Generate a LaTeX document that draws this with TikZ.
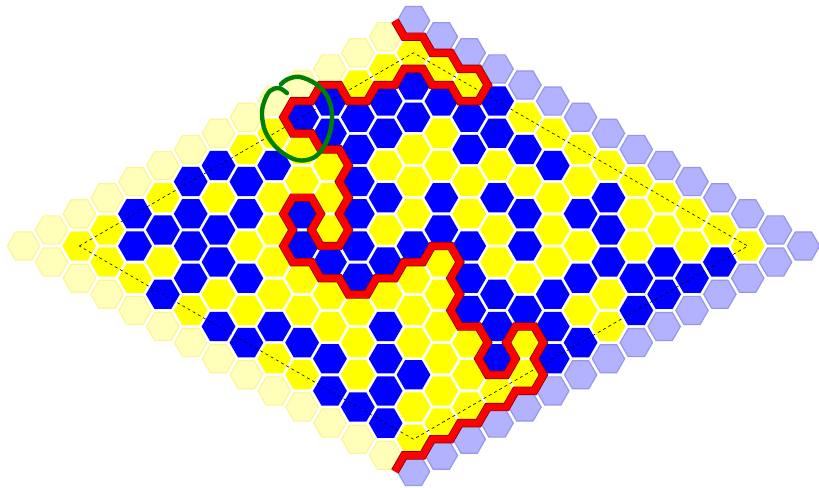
\documentclass[tikz,border=0pt]{standalone}
\definecolor{am}{RGB}{255,255,0}
\definecolor{az}{RGB}{0,0,255}
\definecolor{amclaro}{RGB}{255,255,186}
\definecolor{amborda}{RGB}{250,246,150}
\definecolor{azclaro}{RGB}{178,178,255}
\definecolor{azborda}{RGB}{150,150,235}
\definecolor{verde}{RGB}{0,128,0}
% Casa hexagonal: estilo, coluna (em terços), linha.
\newcommand{\casa}[3]{%
  \path[#1] ({#2},{#3}) +(0:16.9pt) -- +(60:16.9pt) -- +(120:16.9pt)
    -- +(180:16.9pt) -- +(240:16.9pt) -- +(300:16.9pt) -- cycle;}
\newcommand{\casaborda}[3]{%
  \path[#1] ({#2},{#3}) +(0:16.2pt) -- +(60:16.2pt) -- +(120:16.2pt)
    -- +(180:16.2pt) -- +(240:16.2pt) -- +(300:16.2pt) -- cycle;}
\begin{document}
\begin{tikzpicture}[x=9.2833pt,y=-16.1pt,
    bordaam/.style={fill=amclaro, draw=amborda, line width=1.2pt},
    bordaaz/.style={fill=azclaro, draw=azborda, line width=1.2pt},
    caminho/.style={draw=red, line width=7pt, line join=miter,
      preaction={draw=red!45!black, line width=8.4pt}}]
  \useasboundingbox (-2.542,-15.28) rectangle (85.68,15.03);

  % Bordas do tabuleiro.
  \foreach \k in {0,...,13} {
    \casaborda{bordaam}{3*\k}{-\k}
    \casaborda{bordaaz}{3*(\k+14)}{14-\k}
  }
  \foreach \k in {1,...,13}
    \casaborda{bordaam}{3*\k}{\k};
  \foreach \k in {0,...,14}
    \casaborda{bordaaz}{3*(\k+14)}{\k-14};

  % Casas interiores (linha j, coluna i).
  \foreach \linha [count=\j] in {
    {am,am,az,am,az,az,am,am,az,az,am,am,am},
    {am,az,az,az,am,az,az,am,az,az,az,az,am},
    {am,am,az,az,az,am,am,am,az,az,az,az,am},
    {az,az,az,am,am,az,am,az,am,am,am,az,az},
    {am,am,az,am,az,am,az,az,am,am,az,az,am},
    {az,am,am,am,az,az,am,am,az,am,am,az,am},
    {az,az,am,am,az,az,az,az,am,az,am,az,am},
    {am,az,am,am,am,am,am,az,am,az,am,am,am},
    {am,az,am,az,am,am,az,am,az,am,az,az,am},
    {az,am,az,am,am,az,az,am,am,am,az,am,am},
    {az,az,az,am,am,az,az,az,az,az,am,am,am},
    {az,am,am,am,az,am,az,am,am,az,az,am,am},
    {am,am,am,am,am,az,az,am,az,az,az,az,am}} {
    \foreach \cor [count=\i] in \linha
      \casa{fill=\cor}{3*(\i+\j)}{\j-\i};
  }

  % Losango tracejado.
  \draw[dash pattern=on 3pt off 3pt, line width=0.6pt]
    (6,0) -- (42,-12) -- (78,0) -- (42,12) -- cycle;

  % Fronteira entre as duas cores.
  \path[caminho] (40,-14) -- (41,-13) -- (43,-13) -- (44,-12) -- (46,-12)
    -- (47,-11) -- (49,-11) -- (50,-10) -- (49,-9) -- (47,-9) -- (46,-10)
    -- (44,-10) -- (43,-11) -- (41,-11) -- (40,-10) -- (38,-10) -- (37,-9)
    -- (35,-9) -- (34,-10) -- (32,-10) -- (31,-9) -- (29,-9) -- (28,-8)
    -- (29,-7) -- (31,-7) -- (32,-6) -- (34,-6) -- (35,-5) -- (34,-4)
    -- (35,-3) -- (34,-2) -- (35,-1) -- (34,0) -- (32,0) -- (31,-1)
    -- (32,-2) -- (31,-3) -- (29,-3) -- (28,-2) -- (29,-1) -- (28,0)
    -- (29,1) -- (31,1) -- (32,2) -- (34,2) -- (35,3) -- (37,3) -- (38,2)
    -- (40,2) -- (41,1) -- (43,1) -- (44,0) -- (46,0) -- (47,1) -- (46,2)
    -- (47,3) -- (46,4) -- (47,5) -- (49,5) -- (50,6) -- (49,7) -- (50,8)
    -- (52,8) -- (53,7) -- (52,6) -- (53,5) -- (55,5) -- (56,6) -- (55,7)
    -- (56,8) -- (55,9) -- (53,9) -- (52,10) -- (50,10) -- (49,11)
    -- (47,11) -- (46,12) -- (44,12) -- (43,13) -- (41,13) -- (40,14);

  % Marca verde a mão.
  \draw[verde, line width=4.4pt, line cap=round] plot[smooth, tension=0.6]
    coordinates {(28.37,-9.50) (27.51,-9.81) (26.54,-9.63) (25.90,-8.94)
    (25.68,-8.14) (26.11,-7.02) (27.51,-5.96) (29.45,-5.34) (31.18,-5.47)
    (32.25,-6.09) (33.01,-7.08) (33.22,-8.26) (32.68,-9.32) (31.50,-10.06)
    (29.77,-10.50) (28.48,-10.37) (27.73,-10.06)};
\end{tikzpicture}
\end{document}
